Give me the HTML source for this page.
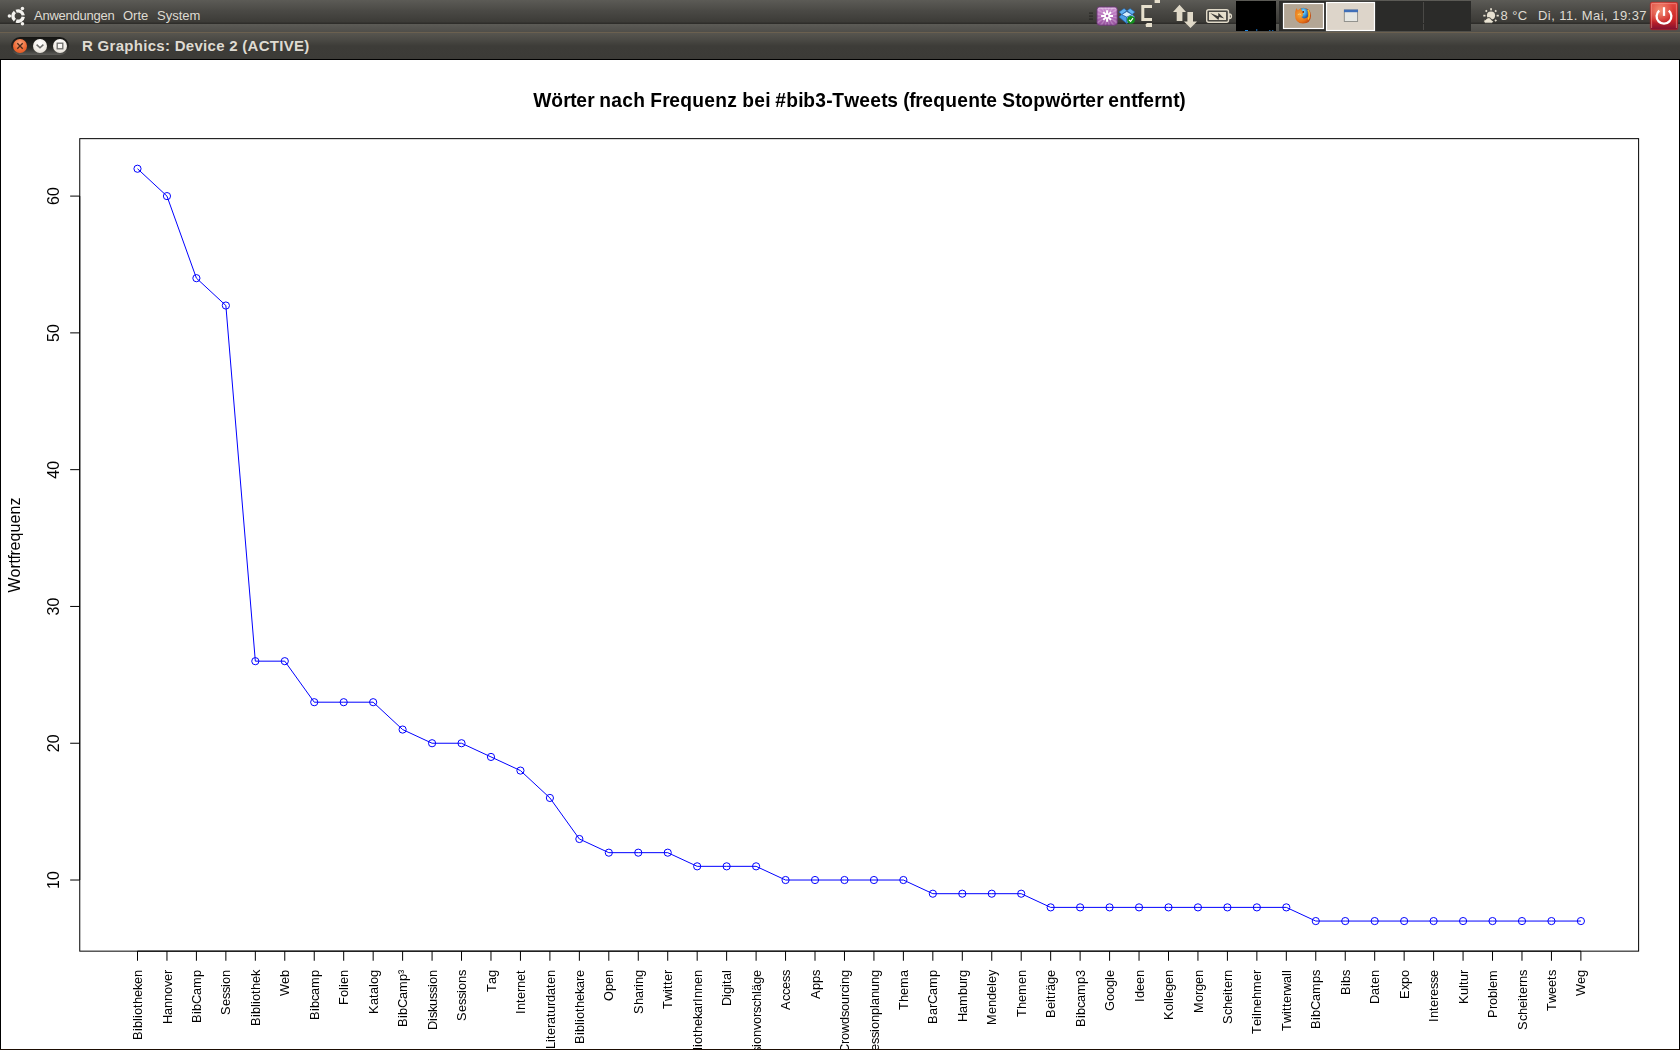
<!DOCTYPE html>
<html><head><meta charset="utf-8"><style>
html,body{margin:0;padding:0;}
body{width:1680px;height:1050px;position:relative;overflow:hidden;background:#3c3b37;font-family:"Liberation Sans",sans-serif;}
.abs{position:absolute;}
</style></head><body>
<div class="abs" style="left:0;top:0;width:1680px;height:32px;background:linear-gradient(#5c5b56 0px,#4a4945 11px,#3c3b37 22px,#2e2d2a 23px,#2e2d2a 24px) 0 0/1680px 24px repeat-y;"></div>
<div class="abs" style="left:0;top:32px;width:1680px;height:27px;background:linear-gradient(#6b604f 0px,#6b604f 1px,#57554f 1px,#4a4944 8px,#3d3c38 14px,#3c3b37 27px);"></div>
<svg class="abs" style="left:0;top:0;" width="32" height="30" viewBox="0 0 32 30">
<path d="M23.25 15.38A5.2 5.2 0 0 0 16.15 11.28M14.90 12.00A5.2 5.2 0 0 0 14.90 20.20M16.15 20.92A5.2 5.2 0 0 0 23.25 16.82" fill="none" stroke="#f4f3ef" stroke-width="3.4"/>
<g fill="#f4f3ef"><circle cx="22.45" cy="8.57" r="1.75"/><circle cx="9.40" cy="16.10" r="1.75"/><circle cx="22.45" cy="23.63" r="1.75"/></g>
</svg>
<div class="abs" style="left:34px;top:7px;font-size:13px;color:#dfdbd2;white-space:nowrap;line-height:18px;letter-spacing:-0.25px;">Anwendungen</div>
<div class="abs" style="left:123px;top:7px;font-size:13px;color:#dfdbd2;white-space:nowrap;line-height:18px;">Orte</div>
<div class="abs" style="left:157px;top:7px;font-size:13px;color:#dfdbd2;white-space:nowrap;line-height:18px;">System</div>
<!-- window buttons -->
<div class="abs" style="left:11px;top:37px;width:58px;height:18px;border-radius:9px;background:linear-gradient(#151513,#2a2a27 60%,#5e5d59);"></div>
<div class="abs" style="left:13px;top:39px;width:14px;height:14px;border-radius:7px;background:radial-gradient(circle at 50% 30%,#f8a27b,#ee6a35 55%,#d9531e);"></div>
<svg class="abs" style="left:13px;top:39px;" width="14" height="14" viewBox="0 0 14 14"><path d="M4.3 4.3L9.7 9.7M9.7 4.3L4.3 9.7" stroke="#4a2a1a" stroke-width="1.3"/></svg>
<div class="abs" style="left:33px;top:39px;width:14px;height:14px;border-radius:7px;background:radial-gradient(circle at 50% 30%,#ffffff,#efebe4 60%,#d8d3ca);"></div>
<svg class="abs" style="left:33px;top:39px;" width="14" height="14" viewBox="0 0 14 14"><path d="M3.6 5.6L7 8.8L10.4 5.6" stroke="#6b6b68" stroke-width="1.5" fill="none"/></svg>
<div class="abs" style="left:53px;top:39px;width:14px;height:14px;border-radius:7px;background:radial-gradient(circle at 50% 30%,#ffffff,#efebe4 60%,#d8d3ca);"></div>
<svg class="abs" style="left:53px;top:39px;" width="14" height="14" viewBox="0 0 14 14"><rect x="4.2" y="4.2" width="5.6" height="5.6" stroke="#6b6b68" stroke-width="1.3" fill="none"/></svg>
<div class="abs" style="left:82px;top:37px;font-size:14px;font-weight:bold;color:#dfdbd2;white-space:nowrap;line-height:18px;letter-spacing:0.28px;transform:scaleX(1.07);transform-origin:0 0;">R Graphics: Device 2 (ACTIVE)</div>
<!-- right side tray -->
<svg class="abs" style="left:1080px;top:0;" width="600" height="32" viewBox="1080 0 600 32">
<defs>
<linearGradient id="gp" x1="0" y1="0" x2="0" y2="1"><stop offset="0" stop-color="#cc92d0"/><stop offset="0.5" stop-color="#b46cba"/><stop offset="1" stop-color="#94529c"/></linearGradient>
<radialGradient id="gff" cx="0.45" cy="0.4" r="0.6"><stop offset="0" stop-color="#3a8fd8"/><stop offset="0.45" stop-color="#2266aa"/><stop offset="0.5" stop-color="#f29a1e"/><stop offset="1" stop-color="#d2561a"/></radialGradient>
<radialGradient id="gfo" cx="0.35" cy="0.45" r="0.7"><stop offset="0" stop-color="#f5a838"/><stop offset="0.6" stop-color="#e8761a"/><stop offset="1" stop-color="#b8400e"/></radialGradient><radialGradient id="gfb" cx="0.4" cy="0.35" r="0.7"><stop offset="0" stop-color="#98e6ff"/><stop offset="0.5" stop-color="#3a9ee0"/><stop offset="1" stop-color="#1a4f9a"/></radialGradient>
<linearGradient id="gred" x1="0" y1="0" x2="0" y2="1"><stop offset="0" stop-color="#e34a40"/><stop offset="0.65" stop-color="#cc2426"/><stop offset="1" stop-color="#7e1030"/></linearGradient><radialGradient id="gredh" cx="0.35" cy="0.3" r="0.5"><stop offset="0" stop-color="#f7a080" stop-opacity="0.85"/><stop offset="1" stop-color="#f7a080" stop-opacity="0"/></radialGradient>
</defs>
<g fill="#2a2a27"><rect x="1089" y="12.5" width="4" height="1.2"/><rect x="1089" y="15.5" width="4" height="1.2"/><rect x="1089" y="18.5" width="4" height="1.2"/></g>
<clipPath id="cpp"><rect x="1097" y="7" width="20.2" height="18.2" rx="2.5"/></clipPath>
<rect x="1097" y="7" width="20.2" height="18.2" rx="2.5" fill="url(#gp)"/>
<path d="M1107.2 16.0L1123.1 17.7L1122.6 20.4ZM1107.2 16.0L1121.3 23.6L1119.7 26.0ZM1107.2 16.0L1117.3 28.4L1115.0 30.0ZM1107.2 16.0L1111.7 31.3L1109.0 31.9ZM1107.2 16.0L1105.5 31.9L1102.8 31.4ZM1107.2 16.0L1099.6 30.1L1097.2 28.5ZM1107.2 16.0L1094.8 26.1L1093.2 23.8ZM1107.2 16.0L1091.9 20.5L1091.3 17.8ZM1107.2 16.0L1091.3 14.3L1091.8 11.6ZM1107.2 16.0L1093.1 8.4L1094.7 6.0ZM1107.2 16.0L1097.1 3.6L1099.4 2.0ZM1107.2 16.0L1102.7 0.7L1105.4 0.1ZM1107.2 16.0L1108.9 0.1L1111.6 0.6ZM1107.2 16.0L1114.8 1.9L1117.2 3.5ZM1107.2 16.0L1119.6 5.9L1121.2 8.2ZM1107.2 16.0L1122.5 11.5L1123.1 14.2Z" fill="#fff" opacity="0.22" clip-path="url(#cpp)"/>
<rect x="1097" y="7" width="20.2" height="18.2" rx="2.5" fill="none" stroke="#6a3574" stroke-width="0.9"/>
<path d="M1098.2 8.3H1116" stroke="#f0d8f2" stroke-width="0.8" opacity="0.7"/>
<g stroke="#fff" stroke-width="2"><path d="M1107.1 10.2V21.8M1101.1 16H1113M1103.3 12.1L1111 19.9M1111 12.1L1103.3 19.9"/></g>
<circle cx="1107.1" cy="16" r="1.3" fill="#a862ae"/>
<g stroke="#1a5fb4" stroke-width="0.6" stroke-linejoin="round">
<path d="M1121.7 14.5L1119.1 17.1L1126.7 23.4L1126.7 17.1Z" fill="#4c9fe6"/>
<path d="M1126.7 17.1L1132.2 14.5L1134.8 17.1L1126.7 23.4Z" fill="#9dd0f6"/>
<path d="M1121.7 14.5L1126.7 11.6L1132.2 14.5L1126.7 17.1Z" fill="#d6eefc"/>
<path d="M1119.1 11.9L1124.1 8.5L1126.9 10.8L1121.7 14.5Z" fill="#64b4f2"/>
<path d="M1127 10.8L1130.1 8.5L1134.8 11.9L1132.2 14.5Z" fill="#64b4f2"/>
</g>
<circle cx="1131" cy="19.8" r="3.9" fill="#12901c"/>
<path d="M1129 19.9L1130.6 21.4L1133 18.2" stroke="#fff" stroke-width="1.1" fill="none"/>
<path d="M1152 6.6H1142.8V19.6H1152" stroke="#e7e0cd" stroke-width="3" fill="none"/>
<path d="M1145.5 24.5L1147 23H1152V27H1146Z" fill="#e7e0cd"/>
<rect x="1154.6" y="0" width="5.4" height="3" fill="#e7e0cd"/>
<path d="M1179.5 4.8L1186 11.9H1182.4V21H1176.7V11.9H1173Z" fill="#e0d9c8"/>
<path d="M1190.5 28.1L1197 21.4H1193V11.9H1187.4V21.4H1184Z" fill="#e0d9c8"/>
<rect x="1206.7" y="9.7" width="21.8" height="12.6" rx="2" fill="none" stroke="#e0d9c8" stroke-width="1.4"/>
<rect x="1208.6" y="11.6" width="18" height="8.8" fill="#e6dfcc" stroke="#3c3b37" stroke-width="0.8"/>
<path d="M1229.2 14V18.6A2.3 2.3 0 0 0 1229.2 14Z" fill="none" stroke="#e0d9c8" stroke-width="1.3"/>
<path d="M1210.2 13.1L1218.2 16.2L1218.4 12.7L1224.2 18.6L1219.3 17L1218.4 19.9Z" fill="#3c3b37"/>
<rect x="1236" y="1" width="40" height="30" fill="#000"/>
<g fill="#1e88e8"><rect x="1245" y="30" width="3" height="1"/><rect x="1256.4" y="29" width="0.8" height="2"/><rect x="1269.3" y="30" width="1" height="1"/><rect x="1272.3" y="30" width="1" height="1"/></g>
<rect x="1279" y="1" width="192" height="30" fill="#2b2b29"/>
<rect x="1423" y="2" width="1" height="21" fill="#4a4946"/><rect x="1423" y="24" width="1" height="6" fill="#4a4946"/>
<rect x="1283.5" y="3.5" width="40" height="25" fill="#b3a695" stroke="#fff" stroke-width="1.2"/>
<path d="M1296.2 8.2L1298 10.2Q1300.5 7.8 1303.5 7.8Q1311 8.2 1311 15.8Q1310.8 23.4 1303 23.6Q1295.2 23.3 1295 15.6Q1295 11 1296.2 8.2Z" fill="url(#gfo)"/>
<path d="M1300.5 8.6Q1304.5 7.2 1307.6 9.6L1308 16.2Q1306.5 18.7 1303.8 18.6L1301.4 17L1303.2 16Q1302.4 14.5 1303 13.6L1303.9 12.2L1302.3 11.2Z" fill="url(#gfb)"/>
<path d="M1307.9 9.8Q1310.5 13.5 1308.2 19.6" fill="none" stroke="#f8c828" stroke-width="1.4"/>
<circle cx="1303.3" cy="11.9" r="0.9" fill="#6a1a08"/>
<path d="M1297.8 14.6Q1299.5 13.6 1301 14.4" stroke="#fbd080" stroke-width="0.9" fill="none"/>
<rect x="1326.5" y="2.5" width="48" height="28" fill="#ddd5ca" stroke="#fff" stroke-width="1.2"/>
<rect x="1344.3" y="10" width="13.3" height="11.5" fill="#e6e7e3" stroke="#8a8a86" stroke-width="0.9"/>
<rect x="1344" y="9.6" width="14" height="2.6" fill="#3f6fb8"/>
<g fill="#e6e0d0">
<circle cx="1491" cy="15.6" r="4.1"/>
<rect x="1490.2" y="8.2" width="1.7" height="2.2"/><rect x="1483.3" y="14.8" width="2.2" height="1.7"/><rect x="1496.6" y="14.8" width="2.2" height="1.7"/>
<rect x="1485.4" y="10" width="1.8" height="1.8" transform="rotate(45 1486.3 10.9)"/><rect x="1494.8" y="10" width="1.8" height="1.8" transform="rotate(45 1495.7 10.9)"/><rect x="1494.8" y="19.6" width="1.8" height="1.8" transform="rotate(45 1495.7 20.5)"/>
</g>
<path d="M1485.5 23.2Q1483.4 23 1483.7 20.9Q1484.2 19.4 1485.8 19.6Q1486.6 17.4 1489 17.6Q1491.3 18 1491.5 20Q1493.6 20.2 1493.4 21.8Q1493.1 23.2 1491.6 23.2Z" fill="#ebe5d4" stroke="#34332f" stroke-width="0.9"/>
<rect x="1650.3" y="2.3" width="27.4" height="27.4" rx="1.6" fill="url(#gred)" stroke="#b82020" stroke-width="0.6"/>
<rect x="1650.6" y="2.6" width="26.8" height="26.8" rx="1.4" fill="url(#gredh)"/>
<path d="M1651.5 3.6H1676.5M1651.6 4V28M1676.4 4V28" stroke="#f3a098" stroke-width="0.7" opacity="0.8"/>
<path d="M1659.24 10.63A7.4 7.4 0 1 0 1668.76 10.63" fill="none" stroke="#fff" stroke-width="2.3"/>
<path d="M1664 7.2V15.9" stroke="#fff" stroke-width="2.3"/>
</svg>
<div class="abs" style="left:1500.5px;top:7px;font-size:13px;color:#dfdbd2;white-space:nowrap;line-height:18px;letter-spacing:0.4px;">8 °C</div>
<div class="abs" style="left:1538px;top:7px;font-size:13px;color:#dfdbd2;white-space:nowrap;line-height:18px;letter-spacing:0.45px;">Di, 11. Mai, 19:37</div>

<div class="abs" style="left:0;top:59px;width:1680px;height:991px;background:#000;"></div>
<div class="abs" style="left:1px;top:60px;width:1678px;height:989px;background:#fff;overflow:hidden;"></div>
<div class="abs" style="left:0;top:1049px;width:1680px;height:1px;background:#1c0d03;"></div>
<svg class="abs" style="left:0;top:0;will-change:transform;" width="1680" height="1049" viewBox="0 0 1680 1049" font-family="Liberation Sans, sans-serif" style="font-kerning:none">
<defs><clipPath id="cw"><rect x="1" y="60" width="1678" height="989"/></clipPath></defs>
<g clip-path="url(#cw)">
<rect x="79.76" y="138.65" width="1558.86" height="812.50" fill="none" stroke="#000" stroke-width="1"/>
<path d="M137.50 951.15H1580.89" stroke="#000" stroke-width="1" fill="none"/>
<path d="M137.50 951.15v9.6M166.96 951.15v9.6M196.41 951.15v9.6M225.87 951.15v9.6M255.33 951.15v9.6M284.78 951.15v9.6M314.24 951.15v9.6M343.70 951.15v9.6M373.16 951.15v9.6M402.61 951.15v9.6M432.07 951.15v9.6M461.53 951.15v9.6M490.98 951.15v9.6M520.44 951.15v9.6M549.90 951.15v9.6M579.36 951.15v9.6M608.81 951.15v9.6M638.27 951.15v9.6M667.73 951.15v9.6M697.18 951.15v9.6M726.64 951.15v9.6M756.10 951.15v9.6M785.55 951.15v9.6M815.01 951.15v9.6M844.47 951.15v9.6M873.93 951.15v9.6M903.38 951.15v9.6M932.84 951.15v9.6M962.30 951.15v9.6M991.75 951.15v9.6M1021.21 951.15v9.6M1050.67 951.15v9.6M1080.12 951.15v9.6M1109.58 951.15v9.6M1139.04 951.15v9.6M1168.50 951.15v9.6M1197.95 951.15v9.6M1227.41 951.15v9.6M1256.87 951.15v9.6M1286.32 951.15v9.6M1315.78 951.15v9.6M1345.24 951.15v9.6M1374.69 951.15v9.6M1404.15 951.15v9.6M1433.61 951.15v9.6M1463.07 951.15v9.6M1492.52 951.15v9.6M1521.98 951.15v9.6M1551.44 951.15v9.6M1580.89 951.15v9.6" stroke="#000" stroke-width="1" fill="none"/>
<path d="M79.76 880.02V196.10" stroke="#000" stroke-width="1" fill="none"/>
<path d="M79.76 880.02h-9.6M79.76 743.24h-9.6M79.76 606.45h-9.6M79.76 469.67h-9.6M79.76 332.88h-9.6M79.76 196.10h-9.6" stroke="#000" stroke-width="1" fill="none"/>
<text transform="translate(59.30 880.02) rotate(-90)" x="-9.00 0.00" font-size="16">10</text>
<text transform="translate(59.30 743.24) rotate(-90)" x="-9.00 0.00" font-size="16">20</text>
<text transform="translate(59.30 606.45) rotate(-90)" x="-9.00 0.00" font-size="16">30</text>
<text transform="translate(59.30 469.67) rotate(-90)" x="-9.00 0.00" font-size="16">40</text>
<text transform="translate(59.30 332.88) rotate(-90)" x="-9.00 0.00" font-size="16">50</text>
<text transform="translate(59.30 196.10) rotate(-90)" x="-9.00 0.00" font-size="16">60</text>
<text transform="translate(142.10 970.10) rotate(-90)" x="-70.00 -61.00 -58.00 -51.00 -48.00 -45.00 -38.00 -34.00 -27.00 -20.00 -14.00 -7.00" font-size="12.8">Bibliotheken</text>
<text transform="translate(171.56 970.10) rotate(-90)" x="-54.00 -45.00 -38.00 -31.00 -24.00 -17.00 -11.00 -4.00" font-size="12.8">Hannover</text>
<text transform="translate(201.01 970.10) rotate(-90)" x="-53.00 -44.00 -41.00 -34.00 -25.00 -18.00 -7.00" font-size="12.8">BibCamp</text>
<text transform="translate(230.47 970.10) rotate(-90)" x="-45.00 -36.00 -29.00 -23.00 -17.00 -14.00 -7.00" font-size="12.8">Session</text>
<text transform="translate(259.93 970.10) rotate(-90)" x="-56.00 -47.00 -44.00 -37.00 -34.00 -31.00 -24.00 -20.00 -13.00 -6.00" font-size="12.8">Bibliothek</text>
<text transform="translate(289.38 970.10) rotate(-90)" x="-26.00 -14.00 -7.00" font-size="12.8">Web</text>
<text transform="translate(318.84 970.10) rotate(-90)" x="-50.00 -41.00 -38.00 -31.00 -25.00 -18.00 -7.00" font-size="12.8">Bibcamp</text>
<text transform="translate(348.30 970.10) rotate(-90)" x="-35.00 -27.00 -20.00 -17.00 -14.00 -7.00" font-size="12.8">Folien</text>
<text transform="translate(377.76 970.10) rotate(-90)" x="-44.00 -35.00 -28.00 -24.00 -17.00 -14.00 -7.00" font-size="12.8">Katalog</text>
<text transform="translate(407.21 970.10) rotate(-90)" x="-57.00 -48.00 -45.00 -38.00 -29.00 -22.00 -11.00 -4.00" font-size="12.8">BibCamp³</text>
<text transform="translate(436.67 970.10) rotate(-90)" x="-60.00 -51.00 -48.00 -42.00 -36.00 -29.00 -23.00 -17.00 -14.00 -7.00" font-size="12.8">Diskussion</text>
<text transform="translate(466.13 970.10) rotate(-90)" x="-51.00 -42.00 -35.00 -29.00 -23.00 -20.00 -13.00 -6.00" font-size="12.8">Sessions</text>
<text transform="translate(495.58 970.10) rotate(-90)" x="-22.00 -14.00 -7.00" font-size="12.8">Tag</text>
<text transform="translate(525.04 970.10) rotate(-90)" x="-44.00 -40.00 -33.00 -29.00 -22.00 -18.00 -11.00 -4.00" font-size="12.8">Internet</text>
<text transform="translate(554.50 970.10) rotate(-90)" x="-79.00 -72.00 -69.00 -65.00 -58.00 -54.00 -47.00 -43.00 -36.00 -32.00 -25.00 -18.00 -14.00 -7.00" font-size="12.8">Literaturdaten</text>
<text transform="translate(583.96 970.10) rotate(-90)" x="-74.00 -65.00 -62.00 -55.00 -52.00 -49.00 -42.00 -38.00 -31.00 -24.00 -18.00 -11.00 -7.00" font-size="12.8">Bibliothekare</text>
<text transform="translate(613.41 970.10) rotate(-90)" x="-31.00 -21.00 -14.00 -7.00" font-size="12.8">Open</text>
<text transform="translate(642.87 970.10) rotate(-90)" x="-44.00 -35.00 -28.00 -21.00 -17.00 -14.00 -7.00" font-size="12.8">Sharing</text>
<text transform="translate(672.33 970.10) rotate(-90)" x="-39.00 -31.00 -22.00 -19.00 -15.00 -11.00 -4.00" font-size="12.8">Twitter</text>
<text transform="translate(701.78 970.10) rotate(-90)" x="-99.00 -90.00 -87.00 -80.00 -77.00 -74.00 -67.00 -63.00 -56.00 -49.00 -43.00 -36.00 -32.00 -28.00 -21.00 -14.00 -7.00" font-size="12.8">BibliothekarInnen</text>
<text transform="translate(731.24 970.10) rotate(-90)" x="-36.00 -27.00 -24.00 -17.00 -14.00 -10.00 -3.00" font-size="12.8">Digital</text>
<text transform="translate(760.70 970.10) rotate(-90)" x="-105.00 -96.00 -89.00 -83.00 -77.00 -74.00 -67.00 -60.00 -54.00 -47.00 -43.00 -37.00 -31.00 -24.00 -21.00 -14.00 -7.00" font-size="12.8">Sessionvorschläge</text>
<text transform="translate(790.15 970.10) rotate(-90)" x="-40.00 -31.00 -25.00 -19.00 -12.00 -6.00" font-size="12.8">Access</text>
<text transform="translate(819.61 970.10) rotate(-90)" x="-29.00 -20.00 -13.00 -6.00" font-size="12.8">Apps</text>
<text transform="translate(849.07 970.10) rotate(-90)" x="-83.00 -74.00 -70.00 -63.00 -54.00 -47.00 -41.00 -34.00 -27.00 -23.00 -17.00 -14.00 -7.00" font-size="12.8">Crowdsourcing</text>
<text transform="translate(878.53 970.10) rotate(-90)" x="-90.00 -81.00 -74.00 -68.00 -62.00 -59.00 -52.00 -45.00 -38.00 -35.00 -28.00 -21.00 -14.00 -7.00" font-size="12.8">Sessionplanung</text>
<text transform="translate(907.98 970.10) rotate(-90)" x="-40.00 -32.00 -25.00 -18.00 -7.00" font-size="12.8">Thema</text>
<text transform="translate(937.44 970.10) rotate(-90)" x="-54.00 -45.00 -38.00 -34.00 -25.00 -18.00 -7.00" font-size="12.8">BarCamp</text>
<text transform="translate(966.90 970.10) rotate(-90)" x="-52.00 -43.00 -36.00 -25.00 -18.00 -11.00 -7.00" font-size="12.8">Hamburg</text>
<text transform="translate(996.35 970.10) rotate(-90)" x="-55.00 -44.00 -37.00 -30.00 -23.00 -16.00 -13.00 -6.00" font-size="12.8">Mendeley</text>
<text transform="translate(1025.81 970.10) rotate(-90)" x="-47.00 -39.00 -32.00 -25.00 -14.00 -7.00" font-size="12.8">Themen</text>
<text transform="translate(1055.27 970.10) rotate(-90)" x="-48.00 -39.00 -32.00 -29.00 -25.00 -21.00 -14.00 -7.00" font-size="12.8">Beiträge</text>
<text transform="translate(1084.72 970.10) rotate(-90)" x="-57.00 -48.00 -45.00 -38.00 -32.00 -25.00 -14.00 -7.00" font-size="12.8">Bibcamp3</text>
<text transform="translate(1114.18 970.10) rotate(-90)" x="-41.00 -31.00 -24.00 -17.00 -10.00 -7.00" font-size="12.8">Google</text>
<text transform="translate(1143.64 970.10) rotate(-90)" x="-32.00 -28.00 -21.00 -14.00 -7.00" font-size="12.8">Ideen</text>
<text transform="translate(1173.10 970.10) rotate(-90)" x="-50.00 -41.00 -34.00 -31.00 -28.00 -21.00 -14.00 -7.00" font-size="12.8">Kollegen</text>
<text transform="translate(1202.55 970.10) rotate(-90)" x="-43.00 -32.00 -25.00 -21.00 -14.00 -7.00" font-size="12.8">Morgen</text>
<text transform="translate(1232.01 970.10) rotate(-90)" x="-54.00 -45.00 -39.00 -32.00 -25.00 -22.00 -18.00 -11.00 -7.00" font-size="12.8">Scheitern</text>
<text transform="translate(1261.47 970.10) rotate(-90)" x="-64.00 -56.00 -49.00 -46.00 -43.00 -36.00 -29.00 -22.00 -11.00 -4.00" font-size="12.8">Teilnehmer</text>
<text transform="translate(1290.92 970.10) rotate(-90)" x="-61.00 -53.00 -44.00 -41.00 -37.00 -33.00 -26.00 -22.00 -13.00 -6.00 -3.00" font-size="12.8">Twitterwall</text>
<text transform="translate(1320.38 970.10) rotate(-90)" x="-59.00 -50.00 -47.00 -40.00 -31.00 -24.00 -13.00 -6.00" font-size="12.8">BibCamps</text>
<text transform="translate(1349.84 970.10) rotate(-90)" x="-25.00 -16.00 -13.00 -6.00" font-size="12.8">Bibs</text>
<text transform="translate(1379.29 970.10) rotate(-90)" x="-34.00 -25.00 -18.00 -14.00 -7.00" font-size="12.8">Daten</text>
<text transform="translate(1408.75 970.10) rotate(-90)" x="-29.00 -20.00 -14.00 -7.00" font-size="12.8">Expo</text>
<text transform="translate(1438.21 970.10) rotate(-90)" x="-52.00 -48.00 -41.00 -37.00 -30.00 -26.00 -19.00 -13.00 -7.00" font-size="12.8">Interesse</text>
<text transform="translate(1467.66 970.10) rotate(-90)" x="-34.00 -25.00 -18.00 -15.00 -11.00 -4.00" font-size="12.8">Kultur</text>
<text transform="translate(1497.12 970.10) rotate(-90)" x="-48.00 -39.00 -35.00 -28.00 -21.00 -18.00 -11.00" font-size="12.8">Problem</text>
<text transform="translate(1526.58 970.10) rotate(-90)" x="-60.00 -51.00 -45.00 -38.00 -31.00 -28.00 -24.00 -17.00 -13.00 -6.00" font-size="12.8">Scheiterns</text>
<text transform="translate(1556.04 970.10) rotate(-90)" x="-41.00 -33.00 -24.00 -17.00 -10.00 -6.00" font-size="12.8">Tweets</text>
<text transform="translate(1585.49 970.10) rotate(-90)" x="-26.00 -14.00 -7.00" font-size="12.8">Weg</text>
<text transform="translate(20.20 544.90) rotate(-90)" x="-47.50 -32.50 -23.50 -18.50 -14.50 -10.50 -5.50 3.50 12.50 21.50 30.50 39.50" font-size="16">Wortfrequenz</text>
<text transform="translate(859.20 107.00) scale(1 1.08)" x="-326.00 -308.00 -296.00 -289.00 -283.00 -272.00 -265.00 -260.00 -248.00 -237.00 -226.00 -214.00 -209.00 -197.00 -190.00 -179.00 -167.00 -155.00 -144.00 -132.00 -122.00 -117.00 -105.00 -94.00 -89.00 -84.00 -73.00 -61.00 -56.00 -44.00 -33.00 -27.00 -15.00 0.00 11.00 22.00 28.00 39.00 44.00 50.00 56.00 63.00 74.00 86.00 98.00 109.00 121.00 127.00 138.00 143.00 156.00 162.00 174.00 186.00 201.00 213.00 220.00 226.00 237.00 244.00 249.00 260.00 272.00 278.00 284.00 295.00 302.00 314.00 320.00" font-size="19.2" font-weight="bold" stroke="#000" stroke-width="0">Wörter nach Frequenz bei #bib3-Tweets (frequente Stopwörter entfernt)</text>
<polyline points="137.50,168.74 166.96,196.10 196.41,278.17 225.87,305.53 255.33,661.17 284.78,661.17 314.24,702.20 343.70,702.20 373.16,702.20 402.61,729.56 432.07,743.24 461.53,743.24 490.98,756.92 520.44,770.59 549.90,797.95 579.36,838.99 608.81,852.67 638.27,852.67 667.73,852.67 697.18,866.34 726.64,866.34 756.10,866.34 785.55,880.02 815.01,880.02 844.47,880.02 873.93,880.02 903.38,880.02 932.84,893.70 962.30,893.70 991.75,893.70 1021.21,893.70 1050.67,907.38 1080.12,907.38 1109.58,907.38 1139.04,907.38 1168.50,907.38 1197.95,907.38 1227.41,907.38 1256.87,907.38 1286.32,907.38 1315.78,921.06 1345.24,921.06 1374.69,921.06 1404.15,921.06 1433.61,921.06 1463.07,921.06 1492.52,921.06 1521.98,921.06 1551.44,921.06 1580.89,921.06" fill="none" stroke="#0000ff" stroke-width="1"/>
<g fill="none" stroke="#0000ff" stroke-width="1"><circle cx="137.50" cy="168.74" r="3.6"/><circle cx="166.96" cy="196.10" r="3.6"/><circle cx="196.41" cy="278.17" r="3.6"/><circle cx="225.87" cy="305.53" r="3.6"/><circle cx="255.33" cy="661.17" r="3.6"/><circle cx="284.78" cy="661.17" r="3.6"/><circle cx="314.24" cy="702.20" r="3.6"/><circle cx="343.70" cy="702.20" r="3.6"/><circle cx="373.16" cy="702.20" r="3.6"/><circle cx="402.61" cy="729.56" r="3.6"/><circle cx="432.07" cy="743.24" r="3.6"/><circle cx="461.53" cy="743.24" r="3.6"/><circle cx="490.98" cy="756.92" r="3.6"/><circle cx="520.44" cy="770.59" r="3.6"/><circle cx="549.90" cy="797.95" r="3.6"/><circle cx="579.36" cy="838.99" r="3.6"/><circle cx="608.81" cy="852.67" r="3.6"/><circle cx="638.27" cy="852.67" r="3.6"/><circle cx="667.73" cy="852.67" r="3.6"/><circle cx="697.18" cy="866.34" r="3.6"/><circle cx="726.64" cy="866.34" r="3.6"/><circle cx="756.10" cy="866.34" r="3.6"/><circle cx="785.55" cy="880.02" r="3.6"/><circle cx="815.01" cy="880.02" r="3.6"/><circle cx="844.47" cy="880.02" r="3.6"/><circle cx="873.93" cy="880.02" r="3.6"/><circle cx="903.38" cy="880.02" r="3.6"/><circle cx="932.84" cy="893.70" r="3.6"/><circle cx="962.30" cy="893.70" r="3.6"/><circle cx="991.75" cy="893.70" r="3.6"/><circle cx="1021.21" cy="893.70" r="3.6"/><circle cx="1050.67" cy="907.38" r="3.6"/><circle cx="1080.12" cy="907.38" r="3.6"/><circle cx="1109.58" cy="907.38" r="3.6"/><circle cx="1139.04" cy="907.38" r="3.6"/><circle cx="1168.50" cy="907.38" r="3.6"/><circle cx="1197.95" cy="907.38" r="3.6"/><circle cx="1227.41" cy="907.38" r="3.6"/><circle cx="1256.87" cy="907.38" r="3.6"/><circle cx="1286.32" cy="907.38" r="3.6"/><circle cx="1315.78" cy="921.06" r="3.6"/><circle cx="1345.24" cy="921.06" r="3.6"/><circle cx="1374.69" cy="921.06" r="3.6"/><circle cx="1404.15" cy="921.06" r="3.6"/><circle cx="1433.61" cy="921.06" r="3.6"/><circle cx="1463.07" cy="921.06" r="3.6"/><circle cx="1492.52" cy="921.06" r="3.6"/><circle cx="1521.98" cy="921.06" r="3.6"/><circle cx="1551.44" cy="921.06" r="3.6"/><circle cx="1580.89" cy="921.06" r="3.6"/></g>
</g>
</svg>
</body></html>
